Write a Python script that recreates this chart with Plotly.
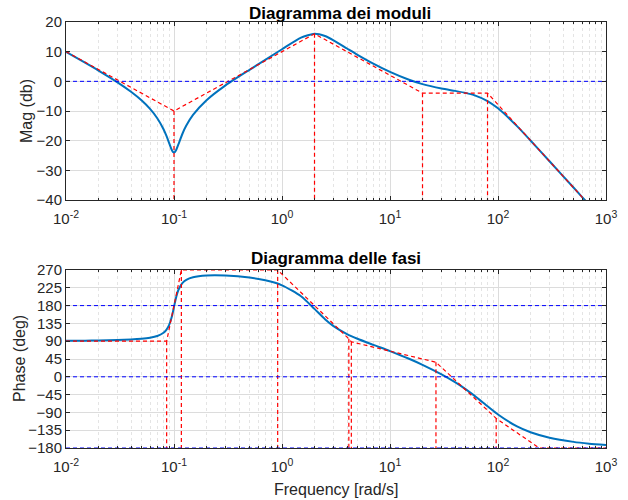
import plotly.graph_objects as go

# Frequency response samples (rad/s, dB, deg)
omega = [0.01, 0.015, 0.02, 0.03, 0.04, 0.05, 0.06, 0.07, 0.08, 0.085, 0.09,
         0.095, 0.098, 0.1, 0.102, 0.105, 0.11, 0.12, 0.13, 0.15, 0.2, 0.3,
         0.5, 0.7, 1, 1.5, 2, 2.5, 3, 4, 5, 7, 10, 15, 20, 30, 40, 50, 60,
         80, 100, 150, 200, 300, 500, 700, 1000]
mag_db = [9.92, 6.29, 3.63, -0.34, -3.52, -6.40, -9.29, -12.43, -16.15, -18.34,
          -20.72, -22.96, -23.79, -23.97, -23.80, -23.05, -21.17, -17.58,
          -14.91, -11.32, -6.36, -1.35, 3.89, 7.23, 10.82, 14.74, 16.04,
          15.27, 13.83, 11.07, 8.95, 5.98, 3.18, 0.53, -0.94, -2.42, -3.22,
          -3.89, -4.63, -6.64, -9.10, -15.11, -19.94, -26.93, -35.80, -41.65,
          -47.86]
phase_deg = [90.83, 91.27, 91.74, 92.80, 94.14, 95.97, 98.67, 103.08, 111.36,
             118.73, 130.52, 149.74, 165.39, 176.74, 187.89, 202.61, 220.09,
             237.48, 245.12, 251.61, 255.87, 255.83, 250.75, 243.88, 231.29,
             203.70, 171.71, 145.67, 128.27, 108.08, 96.17, 80.79, 65.01,
             45.56, 30.24, 6.05, -13.62, -31.07, -47.06, -74.54, -95.37,
             -125.44, -140.03, -153.92, -164.53, -168.99, -172.31]

# Asymptotic magnitude (corner frequencies and levels)
mag_asym_w = [0.01, 0.1, 2, 20, 80, 1000]
mag_asym_db = [10, -10, 16.02, -3.98, -3.98, -47.86]
mag_break_w = [0.1, 2, 20, 80]
mag_break_db = [-10, 16.02, -3.98, -3.98]

# Asymptotic phase
phase_asym_w = [0.01, 0.0855, 0.117, 0.912, 4.158, 4.386, 26.64, 96.2, 240.2, 1000]
phase_asym_deg = [90, 90, 270, 270, 96.1, 88.5, 36.8, -105.1, -180, -180]
phase_break_w = [0.0855, 0.117, 0.912, 4.158, 4.386, 26.64, 96.2]
phase_break_deg = [90, 270, 270, 96.1, 88.5, 36.8, -105.1]

mag_ref = [0]
phase_ref = [180, 0, -180]

x_ticks = [0.01, 0.1, 1, 10, 100, 1000]
x_ticktext = ["10<sup>-2</sup>", "10<sup>-1</sup>", "10<sup>0</sup>",
              "10<sup>1</sup>", "10<sup>2</sup>", "10<sup>3</sup>"]
mag_ticks = [-40, -30, -20, -10, 0, 10, 20]
phase_ticks = [-180, -135, -90, -45, 0, 45, 90, 135, 180, 225, 270]

BLUE = "#0072BD"
FONT = "Liberation Sans, Arial, sans-serif"
TXT = "#262626"

minor_vals = [m * 10 ** e for e in range(-2, 3) for m in range(2, 10)]


def vlines(xs, tops, bottom):
    xx, yy = [], []
    for x, t in zip(xs, tops):
        xx += [x, x, None]
        yy += [t, bottom, None]
    return xx, yy


def hlines(levels):
    xx, yy = [], []
    for v in levels:
        xx += [0.01, 1000, None]
        yy += [v, v, None]
    return xx, yy


fig = go.Figure()
DASH = "4px,3px"

# --- magnitude ---
fig.add_trace(go.Scatter(x=omega, y=mag_db, mode="lines", line=dict(color=BLUE, width=2, shape="spline", smoothing=0.6),
                         xaxis="x", yaxis="y", showlegend=False))
fig.add_trace(go.Scatter(x=mag_asym_w, y=mag_asym_db, mode="lines",
                         line=dict(color="red", width=1.2, dash=DASH),
                         xaxis="x", yaxis="y", showlegend=False))
vx, vy = vlines(mag_break_w, mag_break_db, -40)
fig.add_trace(go.Scatter(x=vx, y=vy, mode="lines", line=dict(color="red", width=1.2, dash=DASH),
                         xaxis="x", yaxis="y", showlegend=False))
hx, hy = hlines(mag_ref)
fig.add_trace(go.Scatter(x=hx, y=hy, mode="lines", line=dict(color="blue", width=1, dash=DASH),
                         xaxis="x", yaxis="y", showlegend=False))

# --- phase ---
fig.add_trace(go.Scatter(x=omega, y=phase_deg, mode="lines", line=dict(color=BLUE, width=2, shape="spline", smoothing=0.6),
                         xaxis="x2", yaxis="y2", showlegend=False))
fig.add_trace(go.Scatter(x=phase_asym_w, y=phase_asym_deg, mode="lines",
                         line=dict(color="red", width=1.2, dash=DASH),
                         xaxis="x2", yaxis="y2", showlegend=False))
vx, vy = vlines(phase_break_w, phase_break_deg, -180)
fig.add_trace(go.Scatter(x=vx, y=vy, mode="lines", line=dict(color="red", width=1.2, dash=DASH),
                         xaxis="x2", yaxis="y2", showlegend=False))
hx, hy = hlines(phase_ref)
fig.add_trace(go.Scatter(x=hx, y=hy, mode="lines", line=dict(color="blue", width=1, dash=DASH),
                         xaxis="x2", yaxis="y2", showlegend=False))

xdom = [66 / 628, 606 / 628]
common_x = dict(type="log", range=[-2, 3], domain=xdom, tickvals=x_ticks, ticktext=x_ticktext,
                ticks="inside", ticklen=4, tickcolor=TXT, showline=True, linecolor=TXT, linewidth=1,
                mirror="ticks", showgrid=True, gridcolor="#dcdcdc", gridwidth=1, zeroline=False,
                automargin=False, ticklabelstandoff=5, tickfont=dict(family=FONT, size=15, color=TXT),
                minor=dict(tickvals=minor_vals, ticks="inside", ticklen=2, tickcolor=TXT,
                           showgrid=True, gridcolor="#e4e4e4", griddash="dot"))
common_y = dict(ticks="inside", ticklen=4, tickcolor=TXT, showline=True, linecolor=TXT, linewidth=1,
                mirror="ticks", showgrid=True, gridcolor="#dcdcdc", gridwidth=1, zeroline=False,
                automargin=False, tickfont=dict(family=FONT, size=15, color=TXT))


def label(text, x, y, size=16, angle=0, bold=False, color=TXT):
    return dict(text=f"<b>{text}</b>" if bold else text, x=x / 628, y=1 - y / 500,
                xref="paper", yref="paper", xanchor="center", yanchor="middle",
                textangle=angle, showarrow=False, font=dict(family=FONT, size=size, color=color))


fig.update_layout(
    width=628, height=500, margin=dict(l=0, r=0, t=0, b=0, autoexpand=False),
    paper_bgcolor="white", plot_bgcolor="white",
    xaxis=dict(common_x, anchor="y"),
    yaxis=dict(common_y, range=[-40, 20], tickvals=mag_ticks, domain=[1 - 200 / 500, 1 - 22 / 500], anchor="x"),
    xaxis2=dict(common_x, anchor="y2"),
    yaxis2=dict(common_y, range=[-180, 270], tickvals=phase_ticks, domain=[1 - 448 / 500, 1 - 270 / 500], anchor="x2"),
    annotations=[
        label("Diagramma dei moduli", 340, 13, size=17, bold=True, color="black"),
        label("Diagramma delle fasi", 336, 258, size=17, bold=True, color="black"),
        label("Mag (db)", 27, 111, angle=-90),
        label("Phase (deg)", 19, 359, angle=-90),
        label("Frequency [rad/s]", 336, 489),
    ],
)

fig.write_html("out.html")
